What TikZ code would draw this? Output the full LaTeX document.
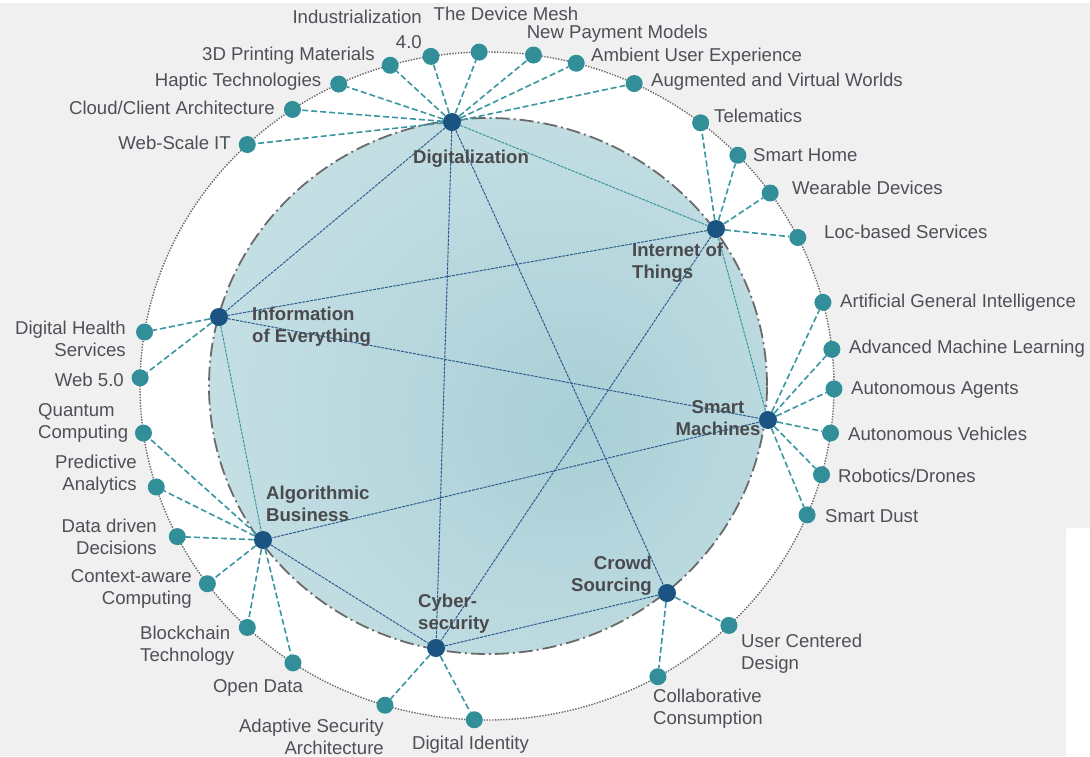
\documentclass[tikz,border=0pt]{standalone}
\usepackage{fontspec}
\setmainfont{Liberation Sans}
\usetikzlibrary{calc}

\definecolor{bgGray}{HTML}{F0F0F0}
\definecolor{nodeTeal}{HTML}{328F99}
\definecolor{hubBlue}{HTML}{1B5482}
\definecolor{spokeTeal}{HTML}{3A96A0}
\definecolor{linkBlue}{HTML}{2D5D8E}
\definecolor{labelGray}{HTML}{4E5058}
\definecolor{hubText}{HTML}{4A4A4E}
\definecolor{ringGray}{HTML}{6A6A6A}
\definecolor{shDark}{HTML}{A9CFD6}
\definecolor{shLight}{HTML}{DAECEF}

% radial glow for the inner disc, off-centre towards the lower right
\pgfdeclareradialshading{innerglow}{\pgfpoint{8bp}{-4bp}}{%
  color(0bp)=(shDark); color(54bp)=(shLight); color(80bp)=(shLight)}

\begin{document}
\begin{tikzpicture}[x=1pt,y=-1pt,
  outer/.style={circle,fill=nodeTeal,minimum size=17pt,inner sep=0pt},
  hub/.style={circle,fill=hubBlue,minimum size=18pt,inner sep=0pt},
  spoke/.style={draw=spokeTeal,line width=1.6pt,dash pattern=on 6pt off 3pt},
  link/.style={draw=linkBlue,line width=1pt,dash pattern=on 3pt off 1pt},
  tlink/.style={draw=spokeTeal,line width=1pt,dash pattern=on 3pt off 1pt},
  lbl/.style={font=\fontsize{18.6}{22}\selectfont,text=labelGray,inner sep=0pt},
  hlbl/.style={font=\fontsize{18.6}{22}\selectfont\bfseries,text=hubText,inner sep=0pt},
]
\useasboundingbox (0,0) rectangle (1090,756);
\fill[white] (0,0) rectangle (1090,756);
\fill[bgGray] (0,3) rectangle (1090,528) (0,528) rectangle (1066,756);

% outer ring
\coordinate (C) at (487,386);
\fill[white] (C) ellipse [x radius=347pt, y radius=334pt];
\draw[ringGray,line width=1.4pt,dash pattern=on 1.4pt off 1.4pt] (C) ellipse [x radius=347pt, y radius=334pt];

% inner disc
\coordinate (I) at (488,386);
\shade[shading=innerglow] (I) ellipse [x radius=279pt, y radius=268pt];
\draw[ringGray,line width=1.8pt,dash pattern=on 14pt off 4pt on 2pt off 4pt] (I) ellipse [x radius=279pt, y radius=268pt];

% hubs
\node[hub] (dg) at (452,122) {};
\node[hub] (it) at (716,229) {};
\node[hub] (ie) at (219,317) {};
\node[hub] (sm) at (768,420) {};
\node[hub] (ab) at (263,540) {};
\node[hub] (cy) at (436,648) {};
\node[hub] (cr) at (667,593) {};

% outer topics on the ring
\foreach \n/\a in {o1/-133.7,o2/-124.1,o3/-115.3,o4/-106.2,o5/-99.3,o6/-91.3,o7/-82.3,o8/-75.1,o9/-64.9,
  o10/-52.0,o11/-43.7,o12/-35.3,o13/-26.4,
  o14/-14.5,o15/-6.3,o16/0.5,o17/8.1,o18/15.4,o19/22.7,
  o20/45.8,o21/60.5,o22/92.1,o23/107.1,
  o24/124.0,o25/133.7,o26/143.7,o27/153.2,o28/162.4,o29/171.9,
  o30/181.4,o31/189.3}
  \node[outer] (\n) at ($(C)+(\a:347 and 334)$) {};

% links between hubs
\draw[tlink] (dg) -- (it);
\draw[link] (dg) -- (ie);
\draw[link] (dg) -- (cy);
\draw[link] (dg) -- (cr);
\draw[link] (it) -- (ie);
\draw[tlink] (it) -- (sm);
\draw[link] (it) -- (cy);
\draw[link] (ie) -- (sm);
\draw[tlink] (ie) -- (ab);
\draw[link] (sm) -- (ab);
\draw[link] (ab) -- (cy);
\draw[link] (cy) -- (cr);

% spokes from hubs to topics
\foreach \o in {o1,o2,o3,o4,o5,o6,o7,o8,o9} \draw[spoke] (dg) -- (\o);
\foreach \o in {o10,o11,o12,o13} \draw[spoke] (it) -- (\o);
\foreach \o in {o14,o15,o16,o17,o18,o19} \draw[spoke] (sm) -- (\o);
\foreach \o in {o20,o21} \draw[spoke] (cr) -- (\o);
\foreach \o in {o22,o23} \draw[spoke] (cy) -- (\o);
\foreach \o in {o24,o25,o26,o27,o28,o29} \draw[spoke] (ab) -- (\o);
\foreach \o in {o30,o31} \draw[spoke] (ie) -- (\o);

% topic labels
\node[lbl,anchor=base east] (t1) at (231,149) {Web-Scale IT};
\node[lbl,anchor=base east] (t2) at (275,114.5) {Cloud/Client Architecture};
\node[lbl,anchor=base east] (t3) at (321.5,86) {Haptic Technologies};
\node[lbl,anchor=base east] (t4) at (375,60) {3D Printing Materials};
\node[lbl,anchor=east,align=right] (t5) at (422,29) {Industrialization\\[3pt]4.0};
\node[lbl,anchor=base] (t6) at (506,20) {The Device Mesh};
\node[lbl,anchor=base west] (t7) at (526.6,38.3) {New Payment Models};
\node[lbl,anchor=base west] (t8) at (591,61) {Ambient User Experience};
\node[lbl,anchor=base west] (t9) at (651,86) {Augmented and Virtual Worlds};
\node[lbl,anchor=base west] (t10) at (714,122.7) {Telematics};
\node[lbl,anchor=base west] (t11) at (753,161) {Smart Home};
\node[lbl,anchor=base west] (t12) at (792,194) {Wearable Devices};
\node[lbl,anchor=base west] (t13) at (824,238) {Loc-based Services};
\node[lbl,anchor=base west] (t14) at (840,307) {Artificial General Intelligence};
\node[lbl,anchor=base west] (t15) at (849,353) {Advanced Machine Learning};
\node[lbl,anchor=base west] (t16) at (851,394) {Autonomous Agents};
\node[lbl,anchor=base west] (t17) at (848,440) {Autonomous Vehicles};
\node[lbl,anchor=base west] (t18) at (838,482) {Robotics/Drones};
\node[lbl,anchor=base west] (t19) at (825,522) {Smart Dust};
\node[lbl,anchor=west,align=left] (t20) at (741,653.5) {User Centered\\Design};
\node[lbl,anchor=west,align=left] (t21) at (653,709) {Collaborative\\Consumption};
\node[lbl,anchor=base] (t22) at (470.5,749) {Digital Identity};
\node[lbl,anchor=east,align=right] (t23) at (384,736.5) {Adaptive Security\\Architecture};
\node[lbl,anchor=base] (t24) at (258,692) {Open Data};
\node[lbl,anchor=west,align=left] (t25) at (140,646) {Blockchain\\Technology};
\node[lbl,anchor=east,align=right] (t26) at (192,588.5) {Context-aware\\Computing};
\node[lbl,anchor=east,align=right] (t27) at (157,537) {Data driven\\Decisions};
\node[lbl,anchor=east,align=right] (t28) at (137,475) {Predictive\\Analytics};
\node[lbl,anchor=west,align=left] (t29) at (38,422.5) {Quantum\\Computing};
\node[lbl,anchor=base east] (t30) at (124,386) {Web 5.0};
\node[lbl,anchor=east,align=right] (t31) at (126,339) {Digital Health\\Services};

% hub labels
\node[hlbl,anchor=base] (h1) at (471,163) {Digitalization};
\node[hlbl,anchor=west,align=left] (h2) at (632,262.5) {Internet of\\Things};
\node[hlbl,anchor=west,align=left] (h3) at (252,326.5) {Information\\of Everything};
\node[hlbl,align=center] (h4) at (718,418.5) {Smart\\Machines};
\node[hlbl,anchor=west,align=left] (h5) at (266,504) {Algorithmic\\Business};
\node[hlbl,anchor=west,align=left] (h6) at (418,614) {Cyber-\\security};
\node[hlbl,anchor=east,align=right] (h7) at (652,576) {Crowd\\Sourcing};
\end{tikzpicture}
\end{document}
